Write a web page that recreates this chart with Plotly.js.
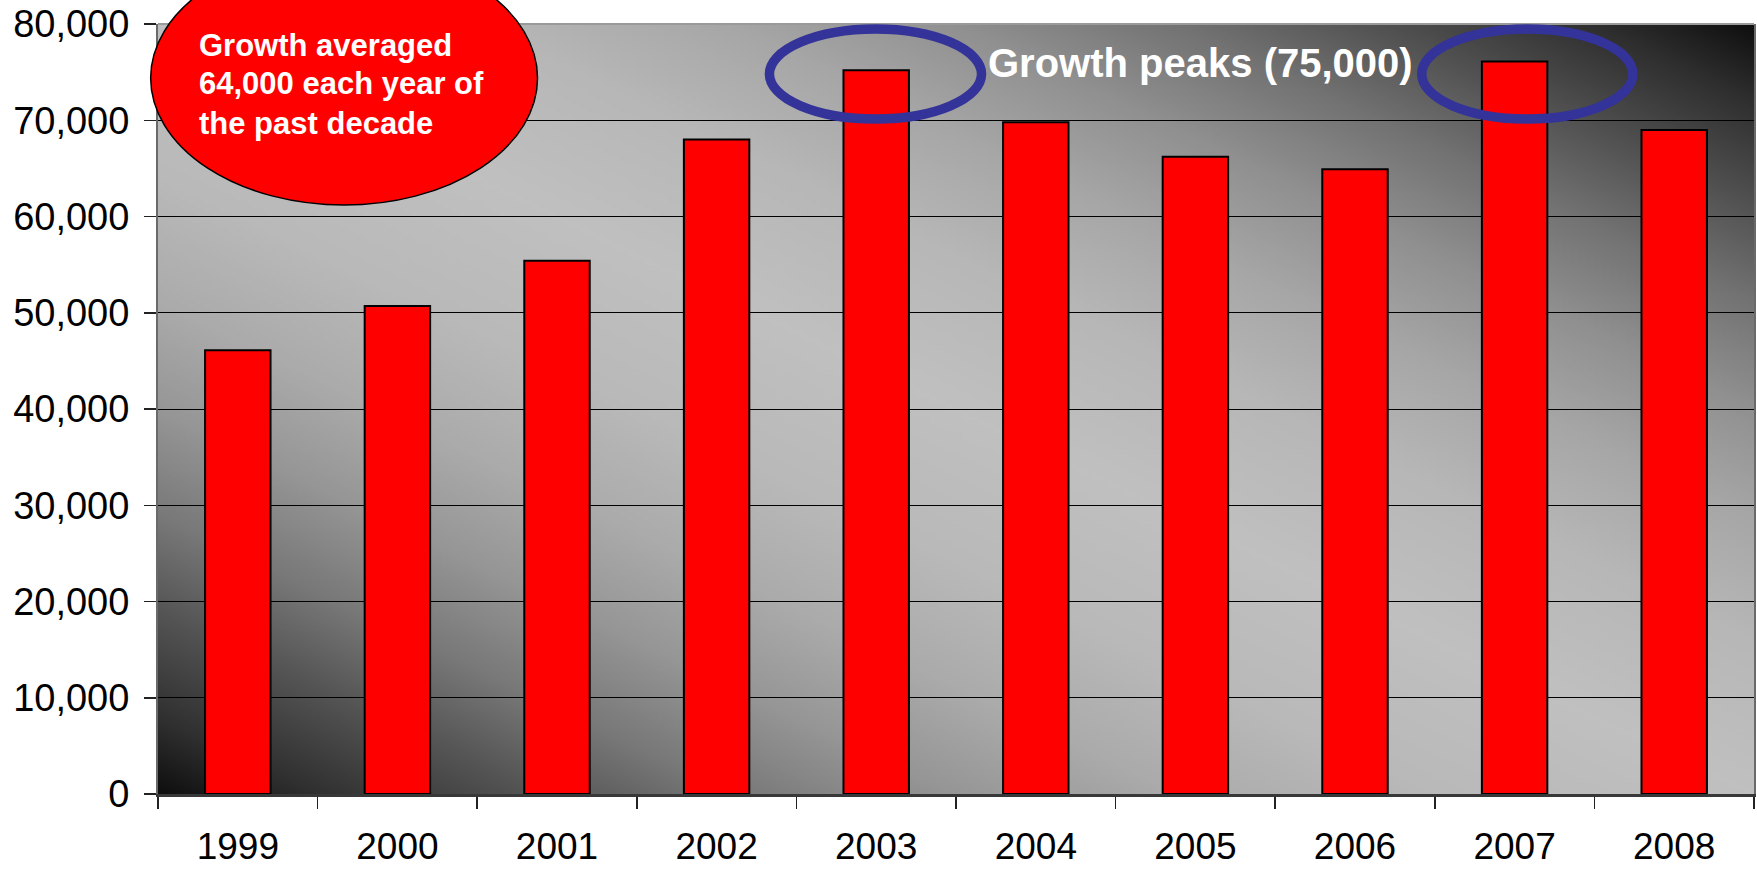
<!DOCTYPE html>
<html>
<head>
<meta charset="utf-8">
<script src="https://cdn.plot.ly/plotly-3.0.1.min.js"></script>
<style>
  html, body { margin: 0; padding: 0; background: #ffffff; }
  #chart { width: 1757px; height: 873px; }
</style>
</head>
<body>
<div id="chart"></div>
<script>
// ---- data ----
const years = ['1999', '2000', '2001', '2002', '2003', '2004', '2005', '2006', '2007', '2008'];
const growth = [46100, 50700, 55400, 68000, 75200, 69800, 66200, 64900, 76100, 69000];
const yTickVals = [0, 10000, 20000, 30000, 40000, 50000, 60000, 70000, 80000];
const yTickText = ['0', '10,000', '20,000', '30,000', '40,000', '50,000', '60,000', '70,000', '80,000'];
const calloutLines = ['Growth averaged', '64,000 each year of', 'the past decade'];
const peakLabel = 'Growth peaks (75,000)';

// ---- background gradient (dark corners bottom-left / top-right, light diagonal band) ----
function gradientBg() {
  const c = document.createElement('canvas');
  c.width = 400; c.height = 400;
  const ctx = c.getContext('2d');
  const g = ctx.createLinearGradient(0, 400, 400, 0);
  const stops = [
    [0.00, '#0e0e0e'], [0.05, '#303030'], [0.12, '#555555'], [0.18, '#787878'],
    [0.25, '#969696'], [0.32, '#ababab'], [0.40, '#b9b9b9'], [0.50, '#c0c0c0'],
    [0.60, '#b7b7b7'], [0.68, '#a6a6a6'], [0.75, '#909090'], [0.82, '#727272'],
    [0.88, '#525252'], [0.95, '#2e2e2e'], [1.00, '#0e0e0e']
  ];
  stops.forEach(s => g.addColorStop(s[0], s[1]));
  ctx.fillStyle = g;
  ctx.fillRect(0, 0, 400, 400);
  return c.toDataURL('image/png');
}

const FONT = 'Liberation Sans, Arial, sans-serif';

const trace = {
  type: 'bar',
  x: years,
  y: growth,
  marker: { color: '#ff0000', line: { color: '#000000', width: 2 } },
  hoverinfo: 'skip'
};

const calloutY = [0.9727, 0.9221, 0.8714];
const annotations = calloutLines.map((t, i) => ({
  xref: 'paper', yref: 'paper', x: 0.0245, y: calloutY[i],
  xanchor: 'left', yanchor: 'middle', showarrow: false,
  text: '<b>' + t + '</b>',
  font: { family: FONT, size: 31, color: '#ffffff' }
}));
annotations.push({
  xref: 'paper', yref: 'paper', x: 0.519, y: 0.95,
  xanchor: 'left', yanchor: 'middle', showarrow: false,
  text: '<b>' + peakLabel + '</b>',
  font: { family: FONT, size: 40, color: '#ffffff' }
});

const layout = {
  width: 1757, height: 873,
  margin: { l: 158, r: 3, t: 24, b: 79, pad: 0 },
  paper_bgcolor: '#ffffff',
  plot_bgcolor: 'rgba(0,0,0,0)',
  showlegend: false,
  bargap: 0.59,
  font: { family: FONT, color: '#000000' },
  xaxis: {
    type: 'category',
    showgrid: false,
    tickson: 'boundaries',
    ticks: 'outside', ticklen: 12, tickwidth: 1.5, tickcolor: '#222222',
    ticklabelstandoff: 18,
    tickfont: { family: FONT, size: 37, color: '#000000' },
    showline: true, linecolor: '#383838', linewidth: 2.5,
    fixedrange: true
  },
  yaxis: {
    range: [0, 80000],
    tickvals: yTickVals, ticktext: yTickText,
    showgrid: true, gridcolor: '#000000', gridwidth: 1,
    zeroline: false,
    ticks: 'outside', ticklen: 12, tickwidth: 1.5, tickcolor: '#222222',
    ticklabelstandoff: 7,
    tickfont: { family: FONT, size: 38, color: '#000000' },
    showline: true, linecolor: '#6a6a6a', linewidth: 2, mirror: true,
    fixedrange: true
  },
  images: [{
    source: gradientBg(),
    xref: 'paper', yref: 'paper', x: 0, y: 1, sizex: 1, sizey: 1,
    sizing: 'stretch', xanchor: 'left', yanchor: 'top', layer: 'below'
  }],
  shapes: [
    { type: 'line', xref: 'paper', yref: 'paper', x0: 0, x1: 1, y0: 1, y1: 1,
      line: { color: '#9a9a9a', width: 2 }, layer: 'above' },
    { type: 'circle', xref: 'paper', yref: 'paper',
      x0: -0.0046, x1: 0.2378, y0: 0.7649, y1: 1.0948,
      fillcolor: '#ff0000', line: { color: '#000000', width: 1.5 }, layer: 'above' },
    { type: 'circle', xref: 'paper', yref: 'paper',
      x0: 0.3831, x1: 0.5160, y0: 0.8766, y1: 0.9935,
      fillcolor: 'rgba(0,0,0,0)', line: { color: '#333399', width: 9.5 }, layer: 'above' },
    { type: 'circle', xref: 'paper', yref: 'paper',
      x0: 0.7918, x1: 0.9241, y0: 0.8766, y1: 0.9935,
      fillcolor: 'rgba(0,0,0,0)', line: { color: '#333399', width: 9.5 }, layer: 'above' }
  ],
  annotations: annotations
};

Plotly.newPlot('chart', [trace], layout, { staticPlot: true, displayModeBar: false });
</script>
</body>
</html>
